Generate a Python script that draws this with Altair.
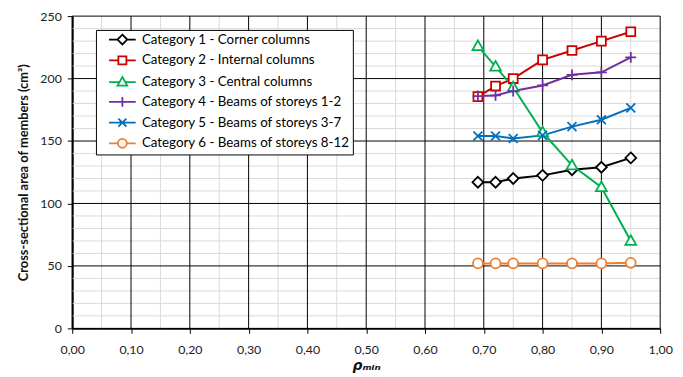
import altair as alt
import pandas as pd

rho = [0.69, 0.72, 0.75, 0.80, 0.85, 0.90, 0.95]
categories = [
    "Category 1 - Corner columns",
    "Category 2 - Internal columns",
    "Category 3 - Central columns",
    "Category 4 - Beams of storeys 1-2",
    "Category 5 - Beams of storeys 3-7",
    "Category 6 - Beams of storeys 8-12",
]
cat1 = [117, 117, 120, 122.5, 127, 129, 136.5]
cat2 = [185.5, 194, 200, 215, 222.5, 230, 237.5]
cat3 = [226, 209.5, 193, 157, 130.5, 113, 70]
cat4 = [186, 186.5, 190, 194.5, 203, 205, 217]
cat5 = [154, 154, 152, 154.5, 161.5, 167, 176.5]
cat6 = [52, 52, 52, 52, 52, 52, 52.5]
series = [cat1, cat2, cat3, cat4, cat5, cat6]
colors = ["#000000", "#CC0000", "#00B050", "#7030A0", "#0070C0", "#ED7D31"]

x_major = [0.0, 0.1, 0.2, 0.3, 0.4, 0.5, 0.6, 0.7, 0.8, 0.9, 1.0]
x_minor = [0.05, 0.15, 0.25, 0.35, 0.45, 0.55, 0.65, 0.75, 0.85, 0.95]
y_major = [0, 50, 100, 150, 200, 250]
y_minor = [10, 20, 30, 40, 60, 70, 80, 90, 110, 120, 130, 140,
           160, 170, 180, 190, 210, 220, 230, 240]

rows = []
for name, vals in zip(categories, series):
    for r, v in zip(rho, vals):
        rows.append({"rho": r, "area": v, "cat": name})
df = pd.DataFrame(rows)

marker_paths = [
    "M0,-1.1L1.1,0L0,1.1L-1.1,0Z",
    "M-0.9,-0.9H0.9V0.9H-0.9Z",
    "M0,-1.15L1.1,0.8L-1.1,0.8Z",
    "M-1.1,0H1.1M0,-1.1V1.1",
    "M-0.9,-0.9L0.9,0.9M-0.9,0.9L0.9,-0.9",
    "M1,0A1,1,0,1,1,-1,0A1,1,0,1,1,1,0Z",
]
legend_paths = [
    "M-3,0H-1.1M1.1,0H3M0,-1.1L1.1,0L0,1.1L-1.1,0Z",
    "M-3,0H-0.9M0.9,0H3M-0.9,-0.9H0.9V0.9H-0.9Z",
    "M-3,0H-0.65M0.65,0H3M0,-1.15L1.1,0.8L-1.1,0.8Z",
    "M-3,0H3M0,-1.1V1.1",
    "M-3,0H3M-0.9,-0.9L0.9,0.9M-0.9,0.9L0.9,-0.9",
    "M-3,0H-1M1,0H3M1,0A1,1,0,1,1,-1,0A1,1,0,1,1,1,0Z",
]

FONT = "Lato"

x_scale = alt.Scale(domain=[0, 1], nice=False)
y_scale = alt.Scale(domain=[0, 250], nice=False)

x_axis = alt.Axis(
    values=x_major,
    labelExpr="replace(format(datum.value, '.2f'), '.', ',')",
    grid=False,
    title="ρₘᵢₙ",
    titleFontSize=14,
    titleFont="DejaVu Sans",
    titleFontWeight="bold",
    titleFontStyle="italic",
    titlePadding=3,
    labelPadding=10,
    labelFlush=False,
    labelOverlap=False,
)
y_axis = alt.Axis(
    values=y_major,
    grid=False,
    title="Cross-sectional area of members (cm²)",
    titleFontSize=13,
    titleFont=FONT,
    titleFontWeight="bold",
    titlePadding=10,
    labelPadding=6,
    labelOverlap=False,
)

x_enc = alt.X("rho:Q", scale=x_scale, axis=x_axis)
y_enc = alt.Y("area:Q", scale=y_scale, axis=y_axis)

# grid rules built from the tick lists
vminor = alt.Chart(pd.DataFrame({"rho": x_minor})).mark_rule(color="#d9d9d9", strokeWidth=1).encode(x=x_enc)
hminor = alt.Chart(pd.DataFrame({"area": y_minor})).mark_rule(color="#d9d9d9", strokeWidth=1).encode(y=y_enc)
vmajor = alt.Chart(pd.DataFrame({"rho": x_major})).mark_rule(color="#000000", strokeWidth=1).encode(x=x_enc)
hmajor = alt.Chart(pd.DataFrame({"area": y_major})).mark_rule(color="#000000", strokeWidth=1).encode(y=y_enc)

color_scale = alt.Scale(domain=categories, range=colors)

base = alt.Chart(df).encode(x=x_enc, y=y_enc)

lines = base.mark_line(strokeWidth=2).encode(
    color=alt.Color("cat:N", scale=color_scale, legend=None),
    detail="cat:N",
)
points = base.mark_point(size=100, filled=False, fill="white", fillOpacity=1, strokeWidth=1.8, opacity=1).encode(
    stroke=alt.Stroke("cat:N", scale=color_scale, legend=None),
    shape=alt.Shape("cat:N", scale=alt.Scale(domain=categories, range=marker_paths), legend=None),
)

leg = alt.Legend(
    title=None,
    orient="none",
    legendX=24,
    legendY=14,
    direction="vertical",
    fillColor="white",
    strokeColor="black",
    padding=3,
    labelFont=FONT,
    labelFontSize=13.5,
    labelColor="black",
    labelLimit=400,
    symbolSize=81,
    symbolStrokeWidth=1.8,
    symbolFillColor="white",
    symbolOpacity=1,
    symbolOffset=17,
    labelOffset=13,
    rowPadding=4,
)
legend_layer = base.mark_point(size=81, opacity=0, filled=False).encode(
    stroke=alt.Stroke("cat:N", scale=alt.Scale(domain=categories, range=colors), legend=leg),
    shape=alt.Shape("cat:N", scale=alt.Scale(domain=categories, range=legend_paths), legend=leg),
)

chart = (
    alt.layer(vminor, hminor, vmajor, hmajor, lines, points, legend_layer)
    .resolve_scale(shape="independent", stroke="independent")
    .properties(
        width=595,
        height=316,
        autosize=alt.AutoSizeParams(type="none"),
        padding={"left": 65, "top": 6, "right": 15, "bottom": 47},
    )
    .configure_view(stroke=None)
    .configure_axis(
        labelFont=FONT,
        labelFontSize=12.5,
        labelColor="#222222",
        titleColor="#111111",
        domainColor="#000000",
        domainWidth=2,
        tickColor="#000000",
        tickSize=5,
    )
)

chart.save("out.html", embed_options={"renderer": "svg", "actions": False})
